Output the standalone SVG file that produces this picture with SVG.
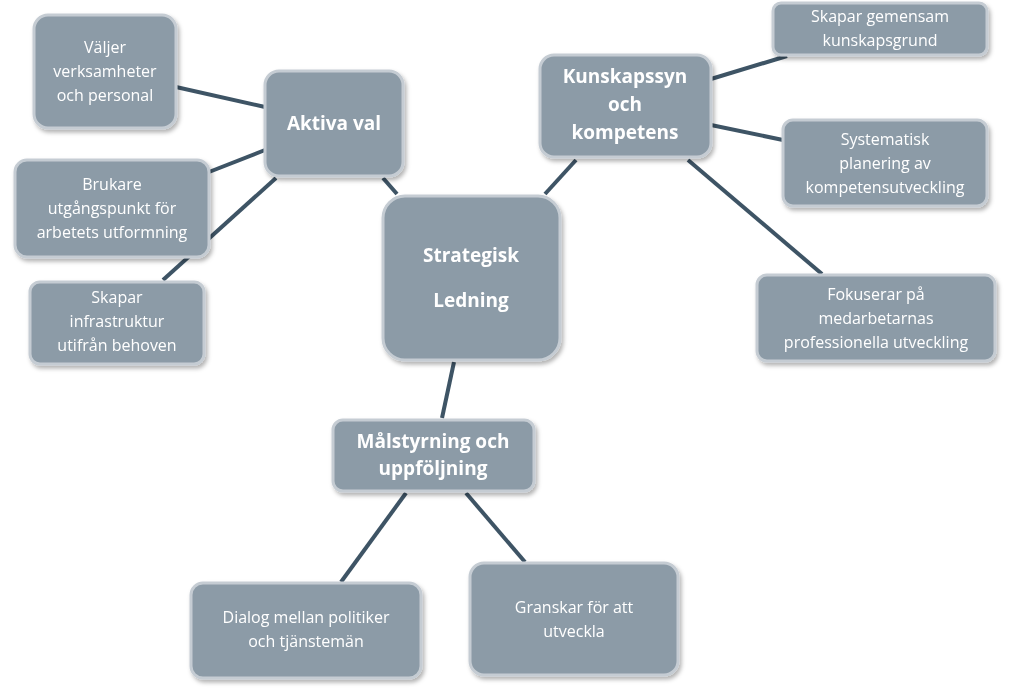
<svg xmlns="http://www.w3.org/2000/svg" width="1024" height="698" viewBox="0 0 1024 698">
<style>
.n{fill:#8c9ba7;stroke:#c5ccd3;stroke-width:3}
.t{fill:#fff;font-family:"Open Sans","Liberation Sans",sans-serif;font-size:16px;text-anchor:middle}
.b{font-weight:bold;font-size:19px}
.c{stroke:#3e5465;stroke-width:4;fill:none}
</style>
<defs><filter id="s" x="-10%" y="-10%" width="130%" height="130%"><feDropShadow dx="2" dy="3" stdDeviation="2" flood-color="#000" flood-opacity="0.3"/></filter></defs>
<rect width="1024" height="698" fill="#fff"/>
<g id="connectors">
<line class="c" x1="176" y1="87" x2="265" y2="107"/>
<line class="c" x1="209" y1="172" x2="265" y2="150"/>
<line class="c" x1="163" y1="280" x2="276" y2="178"/>
<line class="c" x1="383" y1="178" x2="397" y2="194"/>
<line class="c" x1="545" y1="194" x2="576" y2="160"/>
<line class="c" x1="711" y1="79" x2="787" y2="56"/>
<line class="c" x1="711" y1="125" x2="783" y2="140"/>
<line class="c" x1="688" y1="160" x2="822" y2="274"/>
<line class="c" x1="454" y1="362" x2="442" y2="418"/>
<line class="c" x1="406" y1="493" x2="341" y2="582"/>
<line class="c" x1="466" y1="493" x2="525" y2="562"/>
</g>
<g id="central" filter="url(#s)"><rect class="n" x="383" y="196" width="177" height="164" rx="22"/>
<text class="t b" x="471" y="262" font-size="22">Strategisk</text><text class="t b" x="471" y="307" font-size="22">Ledning</text></g>
<g id="aktiva" filter="url(#s)"><rect class="n" x="265" y="71" width="138" height="105" rx="14"/>
<text class="t b" x="334" y="130">Aktiva val</text></g>
<g id="kunskap" filter="url(#s)"><rect class="n" x="540" y="55" width="171" height="102" rx="14"/>
<text class="t b" x="625" y="83">Kunskapssyn</text><text class="t b" x="625" y="111">och</text><text class="t b" x="625" y="139">kompetens</text></g>
<g id="malstyrning" filter="url(#s)"><rect class="n" x="333" y="420" width="201" height="71" rx="10"/>
<text class="t b" x="433" y="448">Målstyrning och</text><text class="t b" x="433" y="475">uppföljning</text></g>
<g id="valjer" filter="url(#s)"><rect class="n" x="34" y="15" width="142" height="113" rx="14"/>
<text class="t" x="105" y="53">Väljer</text><text class="t" x="105" y="77">verksamheter</text><text class="t" x="105" y="101">och personal</text></g>
<g id="brukare" filter="url(#s)"><rect class="n" x="15" y="160" width="194" height="97" rx="12"/>
<text class="t" x="112" y="190">Brukare</text><text class="t" x="112" y="214">utgångspunkt för</text><text class="t" x="112" y="238">arbetets utformning</text></g>
<g id="infra" filter="url(#s)"><rect class="n" x="30" y="282" width="174" height="82" rx="10"/>
<text class="t" x="117" y="303">Skapar</text><text class="t" x="117" y="327">infrastruktur</text><text class="t" x="117" y="351">utifrån behoven</text></g>
<g id="gemensam" filter="url(#s)"><rect class="n" x="773" y="3" width="214" height="52" rx="8"/>
<text class="t" x="880" y="22">Skapar gemensam</text><text class="t" x="880" y="46">kunskapsgrund</text></g>
<g id="systematisk" filter="url(#s)"><rect class="n" x="783" y="120" width="204" height="86" rx="10"/>
<text class="t" x="885" y="145">Systematisk</text><text class="t" x="885" y="169">planering av</text><text class="t" x="885" y="193">kompetensutveckling</text></g>
<g id="fokuserar" filter="url(#s)"><rect class="n" x="757" y="275" width="238" height="86" rx="10"/>
<text class="t" x="876" y="300">Fokuserar på</text><text class="t" x="876" y="324">medarbetarnas</text><text class="t" x="876" y="348">professionella utveckling</text></g>
<g id="dialog" filter="url(#s)"><rect class="n" x="191" y="583" width="230" height="95" rx="12"/>
<text class="t" x="306" y="623">Dialog mellan politiker</text><text class="t" x="306" y="647">och tjänstemän</text></g>
<g id="granskar" filter="url(#s)"><rect class="n" x="470" y="563" width="208" height="112" rx="14"/>
<text class="t" x="574" y="613">Granskar för att</text><text class="t" x="574" y="637">utveckla</text></g>
</svg>
